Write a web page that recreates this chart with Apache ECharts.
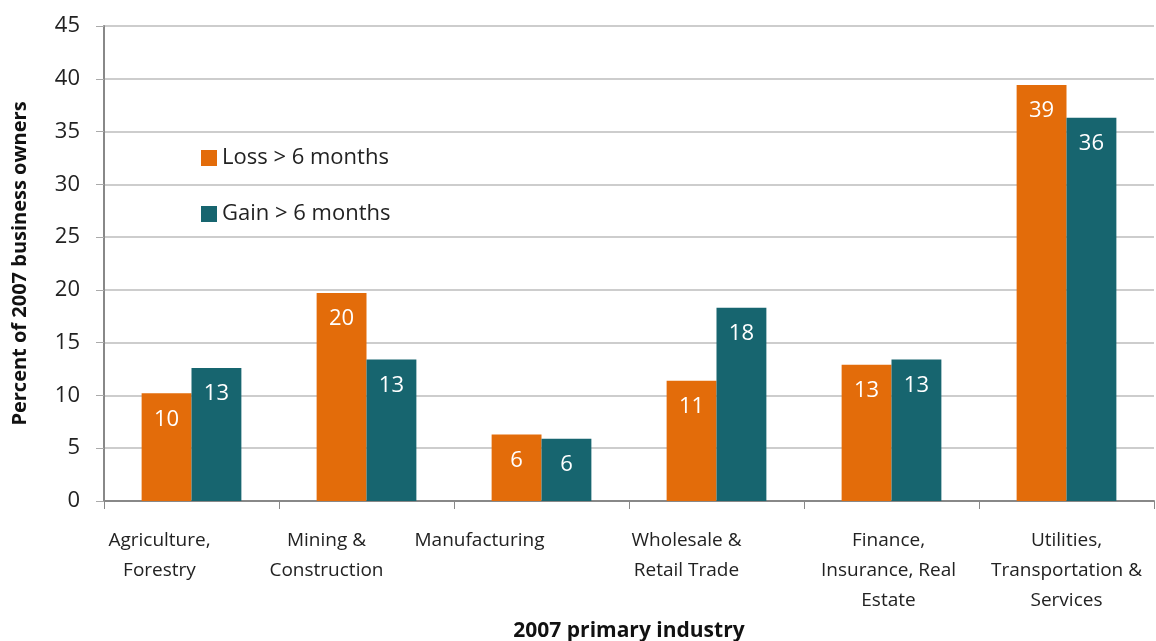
<!DOCTYPE html>
<html>
<head>
<meta charset="utf-8">
<script src="https://cdn.jsdelivr.net/npm/echarts@6/dist/echarts.min.js"></script>
<style>
  html, body { margin: 0; padding: 0; background: #fff; }
  #chart { width: 1156px; height: 641px; }
</style>
</head>
<body>
<div id="chart"></div>
<script>
const categories = [
  'Agriculture,\nForestry',
  'Mining &\nConstruction',
  'Manufacturing',
  'Wholesale &\nRetail Trade',
  'Finance,\nInsurance, Real\nEstate',
  'Utilities,\nTransportation &\nServices'
];
const lossValues = [10.2, 19.7, 6.3, 11.4, 12.9, 39.4];
const gainValues = [12.6, 13.4, 5.9, 18.3, 13.4, 36.3];
const seriesNames = ['Loss > 6 months', 'Gain > 6 months'];

// the original's wrapped labels sit left of their category centres
const labelShiftLeft = [32, 40, 62, 30, 3, 0];

const font = '"Open Sans", sans-serif';

const chart = echarts.init(document.getElementById('chart'));

// labels inside the top of each bar, rounded like the original
const barLabel = {
  show: true,
  position: 'insideTop',
  distance: 15,
  color: '#fff',
  fontSize: 22,
  fontFamily: font,
  formatter: p => Math.round(p.value)
};

const categoryData = categories.map((c, i) => ({
  value: c,
  textStyle: { padding: [0, labelShiftLeft[i] * 2, 0, 0] }
}));

chart.setOption({
  animation: false,
  grid: { left: 104, right: 2, top: 26, bottom: 140, outerBoundsMode: 'none' },
  legend: {
    orient: 'vertical',
    left: 196,
    top: 142,
    itemGap: 34,
    itemWidth: 16,
    itemHeight: 16,
    icon: 'rect',
    textStyle: { fontSize: 22, color: '#222', fontFamily: font },
    data: seriesNames
  },
  xAxis: {
    type: 'category',
    data: categoryData,
    name: '2007 primary industry',
    nameLocation: 'middle',
    nameGap: 112,
    nameTextStyle: { fontSize: 21, fontWeight: 'bold', color: '#111', fontFamily: font },
    axisLine: { lineStyle: { color: '#888', width: 2 } },
    axisTick: { show: true, length: 8, lineStyle: { color: '#888' } },
    axisLabel: {
      interval: 0,
      margin: 25,
      fontSize: 19,
      lineHeight: 30,
      color: '#222',
      fontFamily: font
    }
  },
  yAxis: {
    type: 'value',
    min: 0,
    max: 45,
    interval: 5,
    name: 'Percent of 2007 business owners',
    nameLocation: 'middle',
    nameGap: 74,
    nameTextStyle: { fontSize: 20, fontWeight: 'bold', color: '#111', fontFamily: font },
    axisLine: { show: true, lineStyle: { color: '#888', width: 2 } },
    axisTick: { show: true, length: 8, lineStyle: { color: '#aaa' } },
    axisLabel: { fontSize: 22, color: '#222', margin: 24, fontFamily: font },
    splitLine: { lineStyle: { color: '#bdbdbd', width: 1.5 } }
  },
  series: [
    {
      name: seriesNames[0],
      type: 'bar',
      data: lossValues,
      barGap: '0%',
      barCategoryGap: '43%',
      itemStyle: { color: '#E36C0A' },
      label: barLabel
    },
    {
      name: seriesNames[1],
      type: 'bar',
      data: gainValues,
      barGap: '0%',
      barCategoryGap: '43%',
      itemStyle: { color: '#17656F' },
      label: barLabel
    }
  ]
});
</script>
</body>
</html>
